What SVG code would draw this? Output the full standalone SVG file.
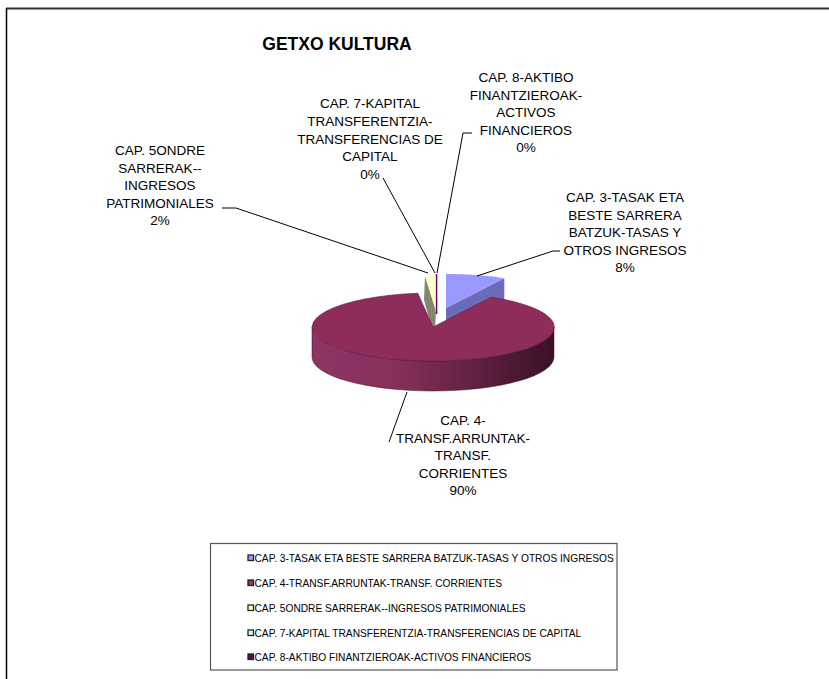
<svg xmlns="http://www.w3.org/2000/svg" width="829" height="679" viewBox="0 0 829 679">
<style>
.lbl{font-family:"Liberation Sans",Arial,sans-serif;font-size:13.5px;fill:#000;text-anchor:middle}
.leg{font-family:"Liberation Sans",Arial,sans-serif;font-size:10.2px;fill:#000}
.title{font-family:"Liberation Sans",Arial,sans-serif;font-size:17.5px;font-weight:bold;fill:#000;text-anchor:middle}
.lead{fill:none;stroke:#000;stroke-width:1}
.sw{stroke:#222;stroke-width:1.3}
</style>
<defs>
<linearGradient id="mside" x1="312" y1="0" x2="554" y2="0" gradientUnits="userSpaceOnUse">
<stop offset="0" stop-color="#8f3463"/>
<stop offset="0.35" stop-color="#86305b"/>
<stop offset="0.7" stop-color="#5e1f40"/>
<stop offset="1" stop-color="#3a1126"/>
</linearGradient>
</defs>
<rect width="829" height="679" fill="#fff"/>
<g id="frame">
<line x1="6" y1="8.5" x2="829" y2="8.5" stroke="#333" stroke-width="1.8"/>
<line x1="6.5" y1="8" x2="6.5" y2="679" stroke="#000" stroke-width="1.5"/>
</g>
<text class="title" x="337" y="49.5">GETXO KULTURA</text>
<g id="slice-cap3">
<path d="M446 308 L504.3 278.2 L504.3 308.2 L446 338 Z" fill="#6b6bba"/>
<path d="M446 308 L446 274 A121 34 0 0 1 504.3 278.2 Z" fill="#9999ff"/>
</g>
<g id="slice-cap5">
<path d="M425 276 L436 311 L435 329 L432 329 L424 300 Z" fill="#85856c"/>
<path d="M425 276 L436 274 L436 311 Z" fill="#ffffcc"/>
</g>
<g id="slice-cap7">
<line x1="435.8" y1="274" x2="435.8" y2="312" stroke="#ccffff" stroke-width="0.6"/>
</g>
<g id="slice-cap8">
<line x1="436.6" y1="274" x2="436.6" y2="314" stroke="#660066" stroke-width="1.4"/>
</g>
<g id="slice-cap4">
<path d="M554 327 A121 34 0 0 1 312 327 L312 357 A121 34 0 0 0 554 357 Z" fill="url(#mside)" stroke="#3a1126" stroke-width="0.5"/>
<path d="M433 327 L491.3 297.2 A121 34 0 1 1 417.8 293.3 Z" fill="#8e2d5c" stroke="#5a1a3a" stroke-width="0.6"/>
</g>
<g id="connectors">
<path class="lead" d="M222 208 L236 208 L428 273"/>
<path class="lead" d="M383 178 L435 273"/>
<path class="lead" d="M472 133 L463 133 L437 273"/>
<path class="lead" d="M560 251 L553 251 L477 276"/>
<path class="lead" d="M407 392 L389 442"/>
</g>
<g id="label-cap3">
<text class="lbl" x="625" y="202">CAP. 3-TASAK ETA</text>
<text class="lbl" x="625" y="219.6">BESTE SARRERA</text>
<text class="lbl" x="625" y="237.2">BATZUK-TASAS Y</text>
<text class="lbl" x="625" y="254.8">OTROS INGRESOS</text>
<text class="lbl" x="625" y="272.4">8%</text>
</g>
<g id="label-cap4">
<text class="lbl" x="463" y="425">CAP. 4-</text>
<text class="lbl" x="463" y="442.6">TRANSF.ARRUNTAK-</text>
<text class="lbl" x="463" y="460.2">TRANSF.</text>
<text class="lbl" x="463" y="477.8">CORRIENTES</text>
<text class="lbl" x="463" y="495.4">90%</text>
</g>
<g id="label-cap5">
<text class="lbl" x="160" y="155">CAP. 5ONDRE</text>
<text class="lbl" x="160" y="172.6">SARRERAK--</text>
<text class="lbl" x="160" y="190.2">INGRESOS</text>
<text class="lbl" x="160" y="207.8">PATRIMONIALES</text>
<text class="lbl" x="160" y="225.4">2%</text>
</g>
<g id="label-cap7">
<text class="lbl" x="370" y="108">CAP. 7-KAPITAL</text>
<text class="lbl" x="370" y="125.8">TRANSFERENTZIA-</text>
<text class="lbl" x="370" y="143.6">TRANSFERENCIAS DE</text>
<text class="lbl" x="370" y="161.4">CAPITAL</text>
<text class="lbl" x="370" y="179.2">0%</text>
</g>
<g id="label-cap8">
<text class="lbl" x="526" y="82">CAP. 8-AKTIBO</text>
<text class="lbl" x="526" y="99.6">FINANTZIEROAK-</text>
<text class="lbl" x="526" y="117.2">ACTIVOS</text>
<text class="lbl" x="526" y="134.8">FINANCIEROS</text>
<text class="lbl" x="526" y="152.4">0%</text>
</g>
<g id="legend">
<rect x="210.5" y="543.5" width="406.5" height="126.5" fill="#fff" stroke="#555" stroke-width="1.2"/>
<rect class="sw" x="248" y="555" width="5.5" height="5.5" fill="#9999ff"/>
<text class="leg" x="254.5" y="561.5">CAP. 3-TASAK ETA BESTE SARRERA BATZUK-TASAS Y OTROS INGRESOS</text>
<rect class="sw" x="248" y="580" width="5.5" height="5.5" fill="#993366"/>
<text class="leg" x="254.5" y="586.5">CAP. 4-TRANSF.ARRUNTAK-TRANSF. CORRIENTES</text>
<rect class="sw" x="248" y="605" width="5.5" height="5.5" fill="#ffffcc"/>
<text class="leg" x="254.5" y="611.5">CAP. 5ONDRE SARRERAK--INGRESOS PATRIMONIALES</text>
<rect class="sw" x="248" y="630" width="5.5" height="5.5" fill="#ccffff"/>
<text class="leg" x="254.5" y="636.5">CAP. 7-KAPITAL TRANSFERENTZIA-TRANSFERENCIAS DE CAPITAL</text>
<rect class="sw" x="248" y="654" width="5.5" height="5.5" fill="#660066"/>
<text class="leg" x="254.5" y="660.5">CAP. 8-AKTIBO FINANTZIEROAK-ACTIVOS FINANCIEROS</text>
</g>
</svg>
